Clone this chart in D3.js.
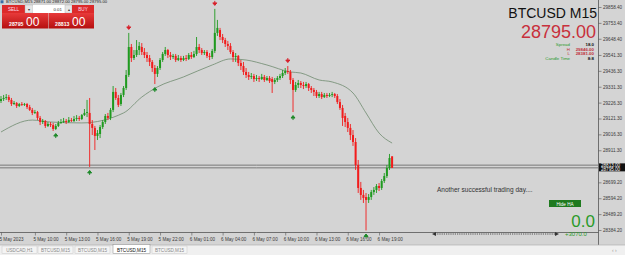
<!DOCTYPE html>
<html><head><meta charset="utf-8">
<script src="https://cdn.jsdelivr.net/npm/d3@7"></script>
<style>
html,body{margin:0;padding:0;background:#d4d4d4;overflow:hidden;}
svg{display:block;font-family:"Liberation Sans",Arial,sans-serif;}
</style></head><body>
<svg id="c" width="625" height="255"></svg>
<script>
// ---- DATA ----
const opens=[29237,29250,29257,29263,29244,29217,29224,29204,29217,29211,
29217,29197,29178,29158,29164,29125,29098,29105,29072,29085,
29078,29052,29072,29092,29098,29105,29098,29111,29105,29118,
29125,29118,29144,29158,29158,29085,29059,29006,29019,29065,
29098,29138,29125,29178,29297,29257,29217,29277,29323,29409,
29594,29521,29541,29574,29594,29561,29541,29521,29495,29455,
29416,29455,29508,29548,29574,29541,29528,29535,29508,29521,
29508,29521,29515,29541,29528,29548,29594,29574,29554,29561,
29535,29528,29568,29687,29706,29660,29640,29614,29601,29561,
29528,29535,29488,29468,29429,29409,29396,29402,29382,29389,
29382,29396,29376,29389,29382,29363,29376,29389,29402,29422,
29435,29429,29376,29310,29343,29356,29343,29336,29349,29323,
29310,29297,29270,29283,29263,29277,29270,29277,29283,29270,
29230,29191,29138,29098,29059,29012,28966,28814,28662,28616,
28602,28583,28602,28635,28649,28675,28662,28708,28741,28794,
28871];
const highs=[29270,29277,29283,29277,29257,29237,29230,29224,29230,29224,
29224,29211,29191,29178,29171,29138,29118,29111,29098,29098,
29092,29085,29105,29118,29125,29118,29131,29125,29138,29144,
29138,29151,29184,29244,29257,29111,29072,29045,29078,29111,
29151,29158,29191,29336,29323,29277,29290,29336,29442,29687,
29614,29574,29640,29627,29620,29587,29561,29541,29508,29475,
29468,29521,29561,29594,29581,29561,29548,29548,29541,29535,
29535,29541,29554,29561,29568,29660,29614,29587,29574,29574,
29554,29581,29846,29773,29720,29680,29654,29634,29620,29574,
29554,29541,29508,29495,29455,29429,29422,29416,29409,29402,
29416,29409,29402,29402,29396,29389,29402,29416,29442,29455,
29468,29442,29389,29363,29376,29369,29363,29363,29356,29336,
29323,29310,29297,29297,29290,29290,29290,29297,29290,29283,
29250,29211,29158,29125,29085,29045,28992,28847,28702,28649,
28629,28622,28649,28668,28688,28695,28721,28761,28814,28887,
28872];
const lows=[29224,29237,29244,29230,29204,29211,29191,29197,29204,29204,
29184,29171,29144,29151,29111,29078,29085,29059,29065,29065,
29039,29045,29065,29085,29092,29085,29092,29098,29098,29105,
29105,29111,29138,29131,28801,29012,28913,28979,28992,29052,
29085,29111,29111,29164,29244,29197,29204,29263,29310,29396,
29495,29508,29528,29541,29541,29521,29495,29468,29429,29349,
29396,29442,29495,29535,29521,29508,29515,29495,29501,29495,
29501,29501,29508,29515,29521,29535,29554,29541,29541,29521,
29508,29515,29554,29667,29640,29620,29594,29574,29548,29495,
29495,29468,29442,29409,29389,29376,29382,29363,29369,29363,
29376,29363,29369,29356,29290,29349,29363,29376,29389,29409,
29416,29349,29164,29297,29323,29323,29316,29323,29303,29290,
29270,29257,29257,29250,29257,29257,29263,29263,29257,29217,
29178,29072,29065,29032,28979,28940,28781,28629,28583,28563,
28381,28563,28583,28616,28629,28642,28649,28695,28728,28781,
28795];
const closes=[29250,29257,29263,29244,29217,29224,29204,29217,29211,29217,
29197,29178,29158,29164,29125,29098,29105,29072,29085,29078,
29052,29072,29092,29098,29105,29098,29111,29105,29118,29125,
29118,29144,29158,29164,29085,29059,29006,29025,29065,29098,
29138,29125,29178,29297,29257,29211,29277,29323,29409,29594,
29521,29541,29574,29601,29561,29541,29521,29495,29455,29416,
29455,29508,29548,29574,29541,29528,29535,29508,29521,29508,
29521,29515,29541,29528,29548,29594,29574,29554,29561,29535,
29528,29568,29687,29720,29660,29640,29614,29601,29561,29528,
29535,29488,29468,29429,29409,29396,29402,29382,29389,29382,
29396,29376,29389,29369,29363,29376,29389,29402,29422,29435,
29429,29376,29310,29343,29356,29343,29336,29349,29323,29310,
29297,29270,29283,29263,29277,29270,29277,29283,29270,29230,
29191,29125,29098,29059,29012,28966,28814,28662,28616,28596,
28583,28602,28635,28649,28675,28662,28708,28741,28794,28860,
28795];
const maIdx=[0,12,19,31,47,54,60,70,81,88,94,102,111,115,122,127,135,140,145,150];
const maVals=[29032,29111,29098,29092,29158,29263,29330,29396,29475,29515,29508,29475,29429,29422,29376,29363,29290,29158,29025,28959];
const upArrowIdx=[21,34,59,112,140];
const downArrowIdx=[49,82,110];
const timeTickIdx=[0,13,25,37,49,61,73,85,97,109,121,133,145];
const timeTickLabels=["5 May 2023","5 May 10:00","5 May 13:00","5 May 16:00","5 May 19:00","5 May 22:00","6 May 01:00","6 May 04:00","6 May 07:00","6 May 10:00","6 May 13:00","6 May 16:00","6 May 19:00"];
const priceTicks=[29858.40,29753.40,29648.40,29541.30,29436.30,29331.30,29226.30,29121.30,29016.30,28911.30,28699.20,28594.20,28489.20,28384.20];
const bid=28795.00, ask=28813.00;
const tabs=["USDCAD,H1","BTCUSD,M15","BTCUSD,M15","BTCUSD,M15","BTCUSD,M15"];
const activeTab=3;

// ---- DRAW ----
const svg=d3.select("#c");
const W=625,H=255;
svg.append("rect").attr("width",W).attr("height",H).attr("fill","#d4d4d4");

const x=d3.scaleLinear().domain([0,150]).range([1,392.1]);
const y=d3.scaleLinear().domain([28384.2,29858.4]).range([230,7]);

// bid/ask lines
[ask,bid].forEach(v=>{
  svg.append("line").attr("x1",0).attr("x2",598).attr("y1",y(v)).attr("y2",y(v))
    .attr("stroke","#6e6e6e").attr("stroke-width",0.9);
});

// MA line
const maData=maIdx.map((d,k)=>({i:d,v:maVals[k]}));
svg.append("path").datum(maData)
  .attr("d",d3.line().x(d=>x(d.i)).y(d=>y(d.v)).curve(d3.curveMonotoneX))
  .attr("fill","none").attr("stroke","#6f8a6f").attr("stroke-width",0.8);

// candles
const idx=d3.range(opens.length);
const cg=svg.append("g");
const bull="#1f9a1f", bear="#f21c1c";
cg.selectAll("line.w").data(idx).join("line").attr("class","w")
  .attr("x1",i=>x(i)).attr("x2",i=>x(i))
  .attr("y1",i=>y(highs[i])).attr("y2",i=>y(lows[i]))
  .attr("stroke",i=>closes[i]>=opens[i]?bull:bear).attr("stroke-width",0.9);
cg.selectAll("rect.b").data(idx).join("rect").attr("class","b")
  .attr("x",i=>x(i)-1).attr("width",2)
  .attr("y",i=>y(Math.max(opens[i],closes[i])))
  .attr("height",i=>Math.max(0.8,Math.abs(y(opens[i])-y(closes[i]))))
  .attr("fill",i=>closes[i]>=opens[i]?bull:bear);

// fractal arrows
downArrowIdx.forEach(i=>{
  const cx=x(i), cy=y(highs[i])-5;
  svg.append("path").attr("d",`M${cx},${cy-3}L${cx},${cy}M${cx-2},${cy-1}L${cx},${cy+1.5}L${cx+2},${cy-1}Z`)
    .attr("stroke","#d8202a").attr("fill","#d8202a").attr("stroke-width",1);
});
upArrowIdx.forEach(i=>{
  const cx=x(i), cy=y(lows[i])+5;
  svg.append("path").attr("d",`M${cx},${cy+3}L${cx},${cy}M${cx-2},${cy+1}L${cx},${cy-1.5}L${cx+2},${cy+1}Z`)
    .attr("stroke","#1e8a2a").attr("fill","#1e8a2a").attr("stroke-width",1);
});

// right axis
svg.append("line").attr("x1",598.5).attr("x2",598.5).attr("y1",0).attr("y2",245).attr("stroke","#555").attr("stroke-width",0.8);
const ra=svg.append("g").attr("transform","translate(598.5,0)")
  .call(d3.axisRight(y).tickValues(priceTicks).tickFormat(d=>d.toFixed(2)).tickSize(3).tickPadding(1.5));
ra.select(".domain").remove();
ra.selectAll("line").attr("stroke","#555").attr("stroke-width",0.6);
ra.selectAll("text").attr("font-size",4.6).attr("fill","#3a3a3a").attr("font-family","Liberation Sans, Arial, sans-serif");

// current price box
svg.append("rect").attr("x",599).attr("y",y(bid)-4.5).attr("width",26).attr("height",8).attr("fill","#111");
svg.append("text").attr("x",601).attr("y",y(bid)-0.8).attr("font-size",4.6).attr("fill","#fff").text(ask.toFixed(2));
svg.append("text").attr("x",601).attr("y",y(bid)+2.8).attr("font-size",4.6).attr("fill","#fff").text(bid.toFixed(2));

// bottom axis
svg.append("line").attr("x1",0).attr("x2",598.5).attr("y1",232.5).attr("y2",232.5).attr("stroke","#555").attr("stroke-width",0.8);
const ba=svg.append("g").attr("transform","translate(0,232.5)")
  .call(d3.axisBottom(x).tickValues(timeTickIdx).tickFormat((d,k)=>timeTickLabels[k]).tickSize(3).tickPadding(2));
ba.select(".domain").remove();
ba.selectAll("line").attr("stroke","#555").attr("stroke-width",0.6);
ba.selectAll("text").attr("font-size",4.6).attr("fill","#3a3a3a").attr("text-anchor","start").attr("dx",-2)
  .attr("font-family","Liberation Sans, Arial, sans-serif");

// tab bar
svg.append("rect").attr("x",0).attr("y",245).attr("width",W).attr("height",10).attr("fill","#f0f0f0");
svg.append("line").attr("x1",0).attr("x2",W).attr("y1",245).attr("y2",245).attr("stroke","#a8a8a8").attr("stroke-width",0.6);
const tabX=[2,38,75,113,152], tabW=[35,35,35,37,35];
tabs.forEach((t,k)=>{
  const a=k===activeTab;
  svg.append("rect").attr("x",tabX[k]).attr("y",a?244.5:246).attr("width",tabW[k]).attr("height",a?9:7.5)
    .attr("fill",a?"#ffffff":"#f4f4f4").attr("stroke",a?"#888":"#c8c8c8").attr("stroke-width",0.5);
  svg.append("text").attr("x",tabX[k]+tabW[k]/2).attr("y",251.5).attr("text-anchor","middle")
    .attr("font-size",4.6).attr("fill",a?"#111":"#8a8a8a").text(t);
});
svg.append("text").attr("x",612).attr("y",252).attr("font-size",5).attr("fill","#999").text("‹ ›");

// top-left title
svg.append("rect").attr("x",0.5).attr("y",0.3).attr("width",3).attr("height",3).attr("fill","#3a6ea5");
svg.append("text").attr("x",6).attr("y",3.4).attr("font-size",4.2).attr("fill","#222")
  .text("BTCUSD,M15  28871.00 28872.00 28795.00 28795.00");

// trade panel
const defs=svg.append("defs");
const gr=defs.append("linearGradient").attr("id","rg").attr("x1",0).attr("x2",0).attr("y1",0).attr("y2",1);
gr.append("stop").attr("offset","0%").attr("stop-color","#e83a3a");
gr.append("stop").attr("offset","100%").attr("stop-color","#b50f0f");
svg.append("rect").attr("x",2).attr("y",5).attr("width",23).attr("height",8).attr("fill","#dc2a2a");
svg.append("text").attr("x",13.5).attr("y",11).attr("text-anchor","middle").attr("font-size",4.6).attr("fill","#fde").text("SELL");
svg.append("rect").attr("x",25).attr("y",5).attr("width",8).attr("height",8).attr("fill","#e6e6e6").attr("stroke","#aaa").attr("stroke-width",0.4);
svg.append("text").attr("x",29).attr("y",10.5).attr("text-anchor","middle").attr("font-size",4).attr("fill","#333").text("▾");
svg.append("rect").attr("x",33).attr("y",5).attr("width",32).attr("height",8).attr("fill","#fff");
svg.append("text").attr("x",62).attr("y",10.8).attr("text-anchor","end").attr("font-size",4.4).attr("fill","#333").text("0.01");
svg.append("rect").attr("x",65).attr("y",5).attr("width",7).attr("height",8).attr("fill","#e6e6e6").attr("stroke","#aaa").attr("stroke-width",0.4);
svg.append("text").attr("x",68.5).attr("y",10.5).attr("text-anchor","middle").attr("font-size",4).attr("fill","#333").text("▴");
svg.append("rect").attr("x",72).attr("y",5).attr("width",22).attr("height",8).attr("fill","#dc2a2a");
svg.append("text").attr("x",83).attr("y",11).attr("text-anchor","middle").attr("font-size",4.6).attr("fill","#fde").text("BUY");
svg.append("rect").attr("x",2).attr("y",13).attr("width",46).attr("height",15.5).attr("fill","url(#rg)");
svg.append("rect").attr("x",48.5).attr("y",13).attr("width",45.5).attr("height",15.5).attr("fill","url(#rg)");
svg.append("text").attr("x",9).attr("y",25.5).attr("font-size",5.2).attr("font-weight","bold").attr("fill","#fff").text("28795");
svg.append("text").attr("x",26).attr("y",26).attr("font-size",12).attr("fill","#fff").text("00");
svg.append("text").attr("x",55).attr("y",25.5).attr("font-size",5.2).attr("font-weight","bold").attr("fill","#fff").text("28813");
svg.append("text").attr("x",72).attr("y",26).attr("font-size",12).attr("fill","#fff").text("00");

// top-right info
svg.append("text").attr("x",597).attr("y",17.5).attr("text-anchor","end").attr("font-size",14).attr("fill","#111").text("BTCUSD M15");
svg.append("text").attr("x",596).attr("y",38).attr("text-anchor","end").attr("font-size",18).attr("fill","#c8303c").text(bid.toFixed(2));
const info=[["Spread","18.0","#2a9a2a","#111",46],["H","29846.00","#c0303a","#c0303a",50.6],["L","28381.00","#c0303a","#c0303a",55.2],["Candle Time","8:8","#2a9a2a","#111",59.8]];
info.forEach(r=>{
  svg.append("text").attr("x",570).attr("y",r[4]).attr("text-anchor","end").attr("font-size",4.4).attr("fill",r[2]).text(r[0]);
  svg.append("text").attr("x",594).attr("y",r[4]).attr("text-anchor","end").attr("font-size",4.4).attr("font-weight","bold").attr("fill",r[3]).text(r[1]);
});

// bottom-right texts
svg.append("text").attr("x",437).attr("y",192).attr("font-size",6.5).attr("fill","#333").text("Another successful trading day....");
svg.append("rect").attr("x",549).attr("y",200).attr("width",32).attr("height",7).attr("fill","#1f7a1f");
svg.append("text").attr("x",565).attr("y",205.5).attr("text-anchor","middle").attr("font-size",4.6).attr("fill","#fff").text("Hide HA");
svg.append("text").attr("x",595).attr("y",227).attr("text-anchor","end").attr("font-size",17).attr("fill","#2a9a2a").text("0.0");
svg.append("text").attr("x",565).attr("y",236).attr("font-size",6).attr("fill","#2a9a2a").text("+3070.0");
// dotted double arrow
svg.append("line").attr("x1",435).attr("x2",556).attr("y1",234).attr("y2",234).attr("stroke","#444").attr("stroke-width",0.9).attr("stroke-dasharray","1.2,1");
svg.append("path").attr("d","M432,234L436,232L436,236Z").attr("fill","#333");
svg.append("path").attr("d","M559,234L555,232L555,236Z").attr("fill","#333");
</script>
</body></html>
